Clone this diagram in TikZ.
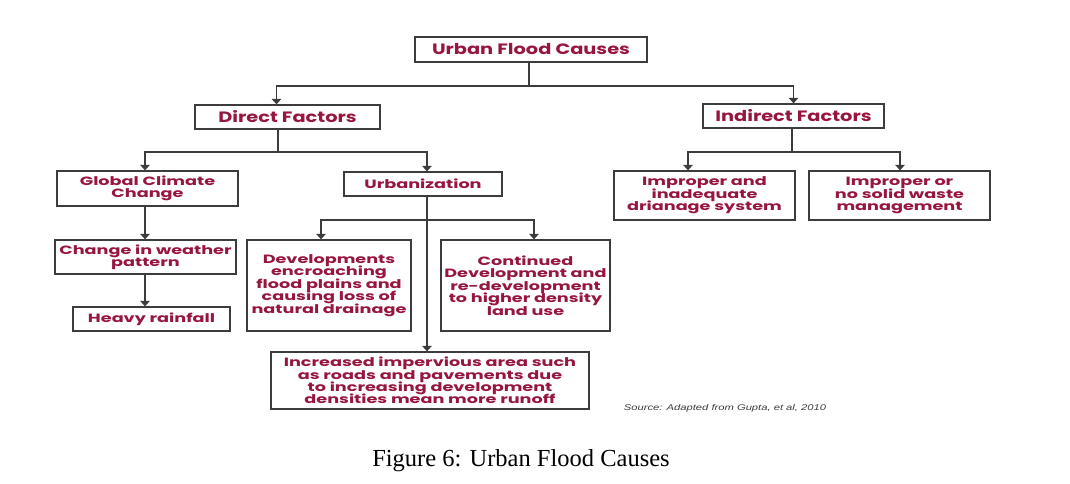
\documentclass[tikz,border=0pt]{standalone}
\usepackage{fontspec}
\usepackage{xcolor}
\usetikzlibrary{arrows.meta}
\setmainfont{Liberation Serif}
\newfontfamily\boxfont[FakeStretch=1.47]{Poppins}
\newfontfamily\topfont[FakeStretch=1.29]{Poppins}
\newfontfamily\srcfont[FakeStretch=1.35]{Liberation Sans}
\newcommand\tightlines{\lineskiplimit=-20pt\relax}
\definecolor{causered}{RGB}{150,22,62}
\definecolor{linegray}{RGB}{60,60,60}

\tikzset{
  cause/.style={draw=linegray, line width=1.3pt, text=causered, align=center,
    inner sep=0pt, font=\boxfont\bfseries\fontsize{12}{12.4}\selectfont\tightlines},
  topcause/.style={cause, font=\topfont\bfseries\fontsize{15}{15}\selectfont},
  link/.style={draw=linegray, line width=1.3pt},
  arr/.style={link, -{Triangle[width=9.5pt,length=5.5pt]}}
}

\begin{document}
\begin{tikzpicture}[x=1pt,y=-1pt]
    \useasboundingbox (0,0) rectangle (1070,484);

    \node[topcause, minimum width=232, minimum height=25] (root) at (531,49.5) {Urban Flood Causes};
    \node[topcause, minimum width=185, minimum height=24] (direct) at (287.5,117) {Direct Factors};
    \node[topcause, minimum width=181, minimum height=24] (indirect) at (793.5,116) {Indirect Factors};

    \node[cause, minimum width=181, minimum height=35] (climate) at (147.5,188.5) {Global Climate\\Change};
    \node[cause, minimum width=158, minimum height=24] (urban) at (423,184) {Urbanization};
    \node[cause, minimum width=181, minimum height=34] (weather) at (145.5,257) {Change in weather\\pattern};
    \node[cause, minimum width=157, minimum height=24] (rain) at (151.5,319) {Heavy rainfall};

    \node[cause, minimum width=164, minimum height=91] (encroach) at (329,285.5) {Developments\\encroaching\\flood plains and\\causing loss of\\natural drainage};
    \node[cause, minimum width=169, minimum height=91] (density) at (525.5,285.5) {Continued\\Development and\\re-development\\to higher density\\land use};
    \node[cause, minimum width=318, minimum height=57] (imperv) at (430,380.5) {Increased impervious area such\\as roads and pavements due\\to increasing development\\densities mean more runoff};

    \node[cause, minimum width=181, minimum height=49] (drain) at (704.5,195.5) {Improper and\\inadequate\\drianage system};
    \node[cause, minimum width=181, minimum height=49] (waste) at (899.5,195.5) {Improper or\\no solid waste\\management};

    \node[text=linegray, font=\srcfont\itshape\fontsize{8.3}{9}\selectfont] (source) at (725,408) {Source: Adapted from Gupta, et al, 2010};
    \node[font=\fontsize{24.5}{26}\selectfont] (caption) at (521,461) {Figure 6: Urban Flood Causes};

    % top level
    \coordinate (rj) at (529,86);
    \draw[link] ([xshift=-2]root.south) -- (rj);
    \draw[arr] (rj) -| ([xshift=-11]direct.north);
    \draw[arr] (rj) -| (indirect.north);

    % direct factors
    \coordinate (dj) at (278,152);
    \draw[link] ([xshift=-9.5]direct.south) -- (dj);
    \draw[arr] (dj) -| ([xshift=-2.5]climate.north);
    \draw[arr] (dj) -| ([xshift=4]urban.north);
    \draw[arr] ([xshift=-2.5]climate.south) -- ([xshift=-0.5]weather.north);
    \draw[arr] ([xshift=-0.5]weather.south) -- ([xshift=-6.5]rain.north);

    % urbanization
    \coordinate (uj) at (427,220);
    \draw[arr] ([xshift=4]urban.south) -- ([xshift=-3]imperv.north);
    \draw[arr] (uj) -| ([xshift=-8]encroach.north);
    \draw[arr] (uj) -| ([xshift=8.5]density.north);

    % indirect factors
    \coordinate (ij) at (792,152);
    \draw[link] ([xshift=-1.5]indirect.south) -- (ij);
    \draw[arr] (ij) -| ([xshift=-16.5]drain.north);
    \draw[arr] (ij) -| ([xshift=0.5]waste.north);

\end{tikzpicture}
\end{document}
